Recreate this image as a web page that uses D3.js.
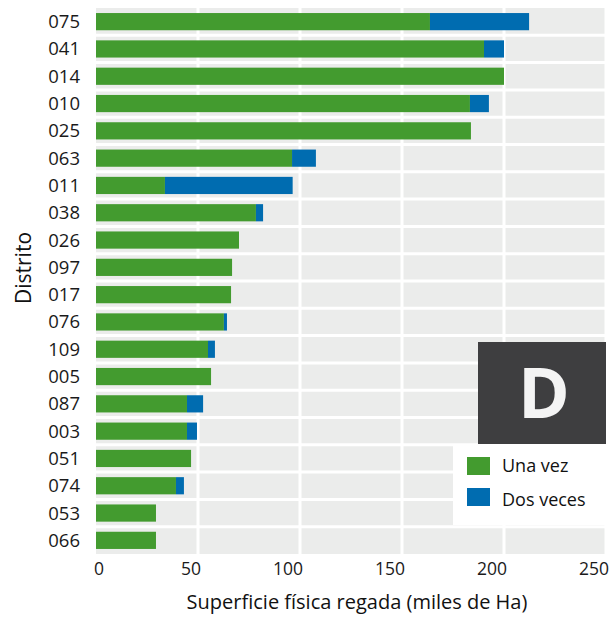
<!DOCTYPE html>
<html><head><meta charset="utf-8">
<script src="https://cdn.jsdelivr.net/npm/d3@7"></script>
<style>body{margin:0;background:#fff}svg{display:block}text{font-family:"Open Sans","Noto Sans",sans-serif}</style>
</head><body><svg id="c" width="616" height="617"></svg>
<script>
const categories = ["075","041","014","010","025","063","011","038","026","097","017","076","109","005","087","003","051","074","053","066"];
const unaVez   = [163.7,190.2,200.0,183.3,183.8,96.1,33.8,78.4,70.1,66.7,66.2,62.7,54.9,56.4,44.6,44.6,46.6,39.2,29.4,29.4];
const dosVeces = [48.6,9.8,0,9.3,0,11.7,62.6,3.5,0,0,0,1.5,3.4,0,7.9,4.9,0,3.9,0,0];
const xTicks = [0,50,100,150,200,250];
const seriesNames = ["Una vez","Dos veces"];
const colors = ["#439b2f","#006cb0"];

const svg = d3.select("#c");
const x = d3.scaleLinear().domain([0,250]).range([96,606]);
const y = d3.scaleBand().domain(categories).range([8,554]).paddingInner(0.37).paddingOuter(0.185);
const step = y.step();

// panel
svg.append("rect").attr("x",x(0)).attr("y",8).attr("width",x(250)-x(0)).attr("height",546).attr("fill","#ebeceb");
// horizontal separators
const g = svg.append("g").attr("stroke","#fff").attr("stroke-width",3);
categories.slice(1).forEach(c=>{
  const yy = y(c) - step*0.37/2;
  g.append("line").attr("x1",x(0)).attr("x2",x(250)).attr("y1",yy).attr("y2",yy);
});
xTicks.slice(1).forEach(t=>{
  g.append("line").attr("x1",x(t)).attr("x2",x(t)).attr("y1",8).attr("y2",554);
});

// stacked data
const data = categories.map((c,i)=>({cat:c, a:unaVez[i], b:dosVeces[i]}));
const stack = d3.stack().keys(["a","b"])(data);
svg.append("g").selectAll("g").data(stack).join("g").attr("fill",(d,i)=>colors[i])
  .selectAll("rect").data(d=>d).join("rect")
  .attr("x",d=>x(d[0])).attr("width",d=>Math.max(0,x(d[1])-x(d[0])))
  .attr("y",d=>y(d.data.cat)).attr("height",y.bandwidth());

// y labels
svg.append("g").selectAll("text").data(categories).join("text")
  .attr("x",80).attr("y",d=>y(d)+y.bandwidth()/2+6.5).attr("text-anchor","end")
  .attr("font-size",18.5).attr("fill","#1a1a1a").text(d=>d);

// x labels
svg.append("g").selectAll("text").data(xTicks).join("text")
  .attr("x",d=> x(d)+3).attr("text-anchor",d=>d===0?"middle":"end")
  .attr("y",575).attr("font-size",17.5).attr("fill","#1a1a1a").text(d=>d);

// axis titles
svg.append("text").attr("x",357).attr("y",609).attr("text-anchor","middle").attr("font-size",20).attr("fill","#111")
  .text("Superficie física regada (miles de Ha)");
svg.append("text").attr("transform","translate(31,268) rotate(-90)").attr("text-anchor","middle").attr("font-size",21).attr("fill","#111")
  .text("Distrito");

// D box
svg.append("rect").attr("x",478).attr("y",342).attr("width",128).attr("height",102).attr("fill","#3e3e40");
svg.append("text").attr("x",544).attr("y",418).attr("text-anchor","middle").attr("font-size",70).attr("font-weight","bold").attr("fill","#f4f4f4").text("D");

// legend
svg.append("rect").attr("x",453).attr("y",444).attr("width",153).attr("height",81).attr("fill","#fff");
const lg = svg.append("g").selectAll("g").data(seriesNames).join("g");
lg.append("rect").attr("x",467).attr("y",(d,i)=>457+i*31).attr("width",23).attr("height",18).attr("fill",(d,i)=>colors[i]);
lg.append("text").attr("x",502).attr("y",(d,i)=>472+i*34).attr("font-size",18).attr("fill","#111").text(d=>d);
</script></body></html>
